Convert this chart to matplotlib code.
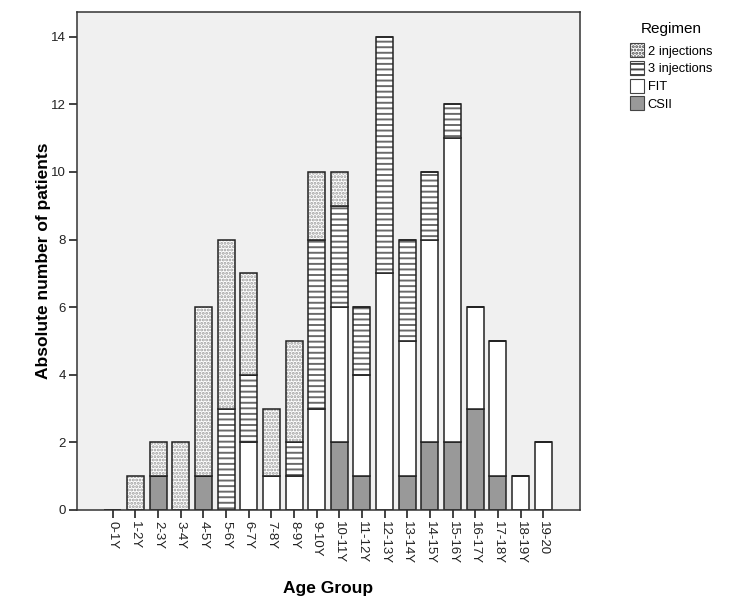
import numpy as np
import matplotlib
matplotlib.use('Agg')
import matplotlib.pyplot as plt
from matplotlib.patches import Patch

# age groups and patient counts per regimen
age_groups = ['0-1Y', '1-2Y', '2-3Y', '3-4Y', '4-5Y', '5-6Y', '6-7Y', '7-8Y',
              '8-9Y', '9-10Y', '10-11Y', '11-12Y', '12-13Y', '13-14Y',
              '14-15Y', '15-16Y', '16-17Y', '17-18Y', '18-19Y', '19-20']
csii = [0, 0, 1, 0, 1, 0, 0, 0, 0, 0, 2, 1, 0, 1, 2, 2, 3, 1, 0, 0]
fit = [0, 0, 0, 0, 0, 0, 2, 1, 1, 3, 4, 3, 7, 4, 6, 9, 3, 4, 1, 2]
inj3 = [0, 0, 0, 0, 0, 3, 2, 0, 1, 5, 3, 2, 7, 3, 2, 1, 0, 0, 0, 0]
inj2 = [0, 1, 1, 2, 5, 5, 3, 2, 3, 2, 1, 0, 0, 0, 0, 0, 0, 0, 0, 0]
regimens = ['CSII', 'FIT', '3 injections', '2 injections']

plt.rcParams['font.family'] = ['Liberation Sans', 'DejaVu Sans']
plt.rcParams['hatch.linewidth'] = 1.4

styles = {
    'CSII': dict(color='#999999', hatch=None, hc='#999999'),
    'FIT': dict(color='white', hatch=None, hc='white'),
    '3 injections': dict(color='white', hatch='---', hc='#6a6a6a'),
    '2 injections': dict(color='white', hatch='.....', hc='#9a9a9a'),
}

fig = plt.figure(figsize=(7.4, 6), dpi=100)
ax = fig.add_axes([0.104, 0.15, 0.68, 0.83])
ax.set_facecolor('#f0f0f0')

x = np.arange(len(age_groups))
width = 0.75
bottom = np.zeros(len(x))
for name, vals in zip(regimens, [csii, fit, inj3, inj2]):
    vals = np.array(vals, dtype=float)
    st = styles[name]
    ax.bar(x, vals, width, bottom=bottom, color=st['color'], hatch=st['hatch'],
           edgecolor=st['hc'], linewidth=0)
    ax.bar(x, vals, width, bottom=bottom, facecolor='none',
           edgecolor='#222222', linewidth=1.1)
    bottom += vals

ax.set_xlim(-1.58, len(x) - 1 + 1.63)
ax.set_ylim(0, 14.73)
ax.set_yticks(range(0, 15, 2))
ax.set_xticks(x)
ax.set_xticklabels(age_groups, rotation=-90)
ax.tick_params(axis='both', direction='out', length=6, width=1.2, pad=2,
               color='#222222', labelsize=9.5, labelcolor='#222222')
for s in ax.spines.values():
    s.set_color('#333333')
    s.set_linewidth(1.1)

ax.set_xlabel('Age Group', fontsize=12.5, fontweight='bold', labelpad=12)
ax.set_ylabel('Absolute number of patients', fontsize=12.5, fontweight='bold',
              labelpad=0)

handles = [Patch(facecolor=styles[n]['color'], hatch=styles[n]['hatch'],
                 edgecolor='#444444', linewidth=0.8, label=n)
           for n in ['2 injections', '3 injections', 'FIT', 'CSII']]
leg = fig.legend(handles=handles, title='Regimen', loc='upper left',
                 bbox_to_anchor=(0.835, 0.982), frameon=False, fontsize=9.3,
                 title_fontsize=11, handlelength=1.1, handleheight=1.3,
                 handletextpad=0.3, labelspacing=0.25)
leg._legend_box.sep = 5

fig.savefig('out.png', dpi=100)
